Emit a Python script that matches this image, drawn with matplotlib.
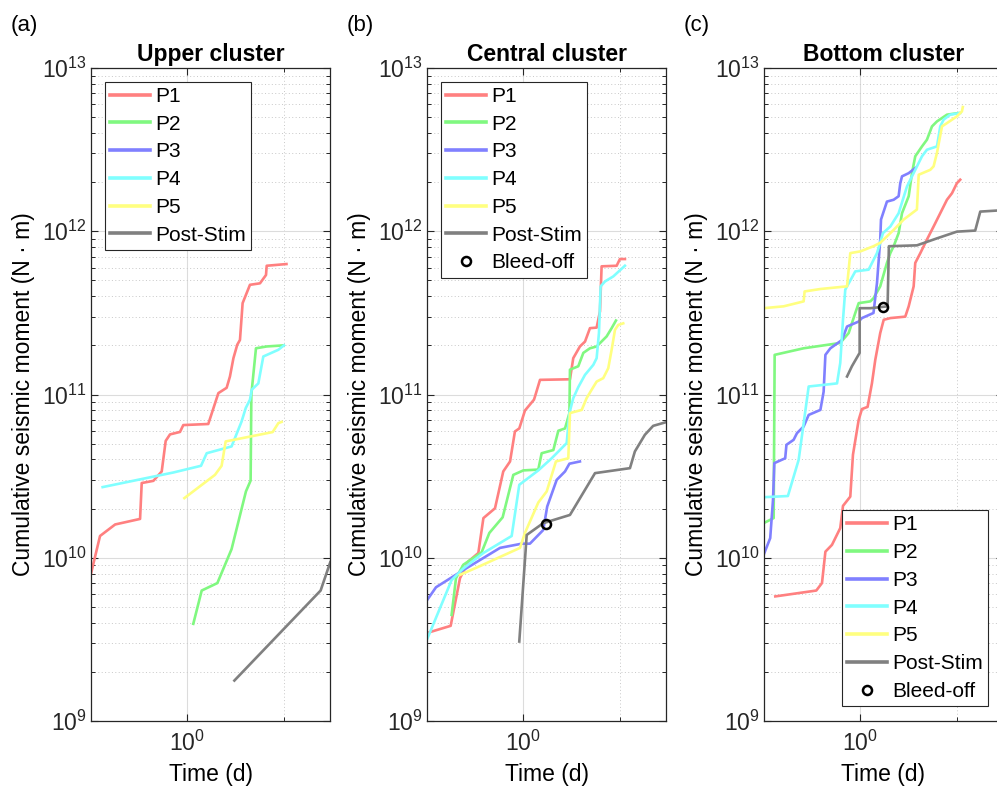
import matplotlib
matplotlib.use('Agg')
import matplotlib.pyplot as plt
from matplotlib.ticker import FixedLocator, LogLocator, NullFormatter, LogFormatterSciNotation

plt.rcParams['font.family'] = ['Liberation Sans', 'DejaVu Sans']
plt.rcParams['mathtext.fontset'] = 'custom'
plt.rcParams['mathtext.rm'] = 'Liberation Sans'
plt.rcParams['mathtext.it'] = 'Liberation Sans:italic'
plt.rcParams['mathtext.bf'] = 'Liberation Sans:bold'

# series colours (MATLAB-ish half transparent primaries)
colors = {'P1': '#ff8080', 'P2': '#80f880', 'P3': '#8080ff',
          'P4': '#80ffff', 'P5': '#ffff80', 'Post-Stim': '#808080'}

# ---------------- Upper cluster ----------------
up_p1_t = [0.100, 0.124, 0.178, 0.323, 0.336, 0.444, 0.542, 0.596, 0.661, 0.839, 0.908,
           1.65, 2.10, 2.56, 2.77, 3.01, 3.30, 3.52, 3.75, 4.06, 4.47, 5.68, 6.56, 6.67, 10.7]
up_p1_m = [8.0e9, 1.36e10, 1.6e10, 1.73e10, 2.87e10, 2.96e10, 3.38e10, 5.2e10, 5.7e10, 5.9e10, 6.5e10,
           6.6e10, 1.02e11, 1.1e11, 1.29e11, 1.67e11, 2.02e11, 2.16e11, 3.63e11, 4.08e11, 4.7e11, 4.8e11,
           5.4e11, 6.15e11, 6.3e11]
up_p2_t = [1.153, 1.41, 2.05, 2.88, 4.06, 4.54, 4.62, 5.16, 6.67, 9.93]
up_p2_m = [3.94e9, 6.3e9, 7.0e9, 1.13e10, 2.55e10, 2.97e10, 1.0e11, 1.92e11, 1.97e11, 2.0e11]
up_p4_t = [0.132, 0.716, 1.387, 1.589, 2.88, 3.66, 4.04, 4.47, 4.66, 5.46, 6.15, 8.81, 10.07]
up_p4_m = [2.71e10, 3.33e10, 3.66e10, 4.37e10, 4.81e10, 6.84e10, 8.26e10, 9.3e10, 1.07e11,
           1.17e11, 1.71e11, 1.88e11, 2.0e11]
up_p5_t = [0.931, 1.936, 2.27, 2.50, 7.69, 8.81, 9.53]
up_p5_m = [2.32e10, 3.22e10, 3.66e10, 5.16e10, 5.89e10, 6.68e10, 6.8e10]
up_post_t = [3.08, 24.2, 30.5]
up_post_m = [1.77e9, 6.3e9, 9.4e9]

# ---------------- Central cluster ----------------
ce_p1_t = [0.098, 0.176, 0.220, 0.269, 0.341, 0.385, 0.508, 0.619, 0.728, 0.818, 0.908, 1.04,
           1.29, 1.32, 1.49, 3.05, 3.30, 3.87, 4.37, 4.92, 5.77, 6.25, 6.50, 9.31, 10.07, 11.35]
ce_p1_m = [3.45e9, 3.83e9, 7.5e9, 9.5e9, 1.07e10, 1.75e10, 2.01e10, 3.38e10, 3.89e10, 5.94e10,
           6.2e10, 7.98e10, 9.3e10, 9.7e10, 1.23e11, 1.24e11, 1.67e11, 1.97e11, 2.11e11, 2.55e11,
           2.57e11, 3.23e11, 6.1e11, 6.15e11, 6.76e11, 6.76e11]
ce_p2_t = [0.180, 0.200, 0.238, 0.369, 0.444, 0.610, 0.787, 1.0, 1.43, 1.55, 2.05, 2.31, 2.71,
           3.01, 3.05, 3.72, 4.20, 4.92, 5.77, 7.33, 8.26, 9.16]
ce_p2_m = [4.47e9, 7.5e9, 9.06e9, 1.08e10, 1.42e10, 1.77e10, 3.22e10, 3.43e10, 3.47e10, 4.37e10,
           4.57e10, 6.0e10, 6.2e10, 7.7e10, 1.42e11, 1.49e11, 1.8e11, 1.92e11, 1.97e11, 2.27e11,
           2.55e11, 2.84e11]
ce_p3_t = [0.098, 0.124, 0.238, 0.573, 0.962, 1.17, 1.61, 1.77, 2.22, 2.71, 3.01, 3.87]
ce_p3_m = [5.4e9, 6.6e9, 8.4e9, 1.15e10, 1.22e10, 1.22e10, 1.48e10, 2.06e10, 3.0e10, 3.38e10,
           3.77e10, 3.89e10]
ce_p4_t = [0.098, 0.180, 0.238, 0.385, 0.757, 0.908, 1.43, 1.97, 2.82, 3.01, 3.30, 3.72, 4.37,
           5.33, 5.77, 6.10, 6.35, 7.05, 8.59, 11.35]
ce_p4_m = [3.07e9, 7.3e9, 8.6e9, 1.07e10, 1.36e10, 2.8e10, 3.43e10, 4.07e10, 5.04e10, 7.7e10,
           9.5e10, 1.11e11, 1.32e11, 1.52e11, 1.67e11, 2.38e11, 4.6e11, 4.93e11, 5.29e11, 6.15e11]
ce_p5_t = [0.220, 0.341, 0.923, 1.04, 1.43, 1.75, 2.18, 2.93, 3.05, 4.04, 4.54, 5.12, 5.77,
           6.76, 7.62, 8.26, 8.95, 9.68, 10.9]
ce_p5_m = [7.86e9, 8.8e9, 1.15e10, 1.42e10, 2.18e10, 2.55e10, 3.89e10, 4.07e10, 7.7e10, 8.05e10,
           9.5e10, 1.07e11, 1.2e11, 1.26e11, 1.45e11, 1.88e11, 2.49e11, 2.67e11, 2.73e11]
ce_post_t = [0.908, 1.084, 1.61, 3.05, 5.55, 12.8, 14.4, 18.3, 22.3, 29.5, 31.0]
ce_post_m = [3.07e9, 1.38e10, 1.63e10, 1.83e10, 3.3e10, 3.54e10, 4.48e10, 5.67e10, 6.43e10,
             6.74e10, 6.8e10]
ce_bleed = (1.71, 1.62e10)

# ---------------- Bottom cluster ----------------
bo_p1_t = [0.131, 0.349, 0.400, 0.434, 0.508, 0.619, 0.661, 0.787, 0.839, 0.962, 1.04, 1.19,
           1.32, 1.43, 1.61, 1.75, 2.05, 2.93, 3.18, 3.58, 3.72, 4.20, 4.92, 5.77, 6.76, 7.94,
           8.95, 10.07, 10.9]
bo_p1_m = [5.8e9, 6.3e9, 7.0e9, 1.09e10, 1.2e10, 1.52e10, 2.08e10, 2.37e10, 4.28e10, 7.0e10,
           8.15e10, 8.4e10, 1.17e11, 1.63e11, 2.38e11, 2.87e11, 2.94e11, 3.0e11, 3.47e11, 4.6e11,
           6.4e11, 7.35e11, 8.9e11, 1.07e12, 1.29e12, 1.56e12, 1.71e12, 1.97e12, 2.07e12]
bo_p2_t = [0.099, 0.126, 0.129, 0.258, 0.619, 0.757, 0.887, 0.962, 1.27, 1.37, 1.61, 1.89, 2.05,
           2.22, 2.50, 2.71, 3.18, 3.44, 3.72, 4.37, 4.92, 5.55, 6.25, 7.94, 10.5]
bo_p2_m = [1.63e10, 1.75e10, 1.75e11, 1.92e11, 2.07e11, 2.38e11, 3.16e11, 3.63e11, 3.72e11,
           3.89e11, 4.6e11, 6.4e11, 7.35e11, 8.1e11, 9.75e11, 1.29e12, 1.64e12, 2.27e12, 2.88e12,
           3.31e12, 3.64e12, 4.39e12, 4.71e12, 5.18e12, 5.3e12]
bo_p3_t = [0.099, 0.116, 0.124, 0.128, 0.166, 0.171, 0.203, 0.220, 0.258, 0.291, 0.385, 0.416,
           0.434, 0.489, 0.646, 0.728, 0.962, 1.04, 1.37, 1.49, 1.61, 1.64, 1.89, 2.22, 2.50,
           2.60, 2.71, 3.18, 3.72]
bo_p3_m = [1.04e10, 1.32e10, 2.26e10, 3.8e10, 4.07e10, 4.92e10, 5.28e10, 5.8e10, 6.37e10,
           7.5e10, 8.05e10, 1.04e11, 1.75e11, 1.92e11, 2.16e11, 2.61e11, 2.8e11, 2.94e11, 3.16e11,
           4.82e11, 8.88e11, 1.18e12, 1.52e12, 1.56e12, 1.64e12, 1.97e12, 2.17e12, 2.27e12, 2.44e12]
bo_p4_t = [0.099, 0.177, 0.229, 0.291, 0.573, 0.619, 0.661, 0.698, 0.887, 1.22, 1.49, 1.72,
           2.05, 2.50, 3.05, 3.72, 4.37, 4.92, 6.25, 6.76, 7.33, 8.59, 10.9]
bo_p4_m = [2.35e10, 2.39e10, 3.98e10, 1.12e11, 1.17e11, 1.56e11, 2.87e11, 4.39e11, 5.68e11,
           5.82e11, 7.35e11, 9.75e11, 1.07e12, 1.29e12, 1.88e12, 2.38e12, 2.88e12, 3.16e12,
           3.31e12, 4.39e12, 4.83e12, 5.18e12, 5.3e12]
bo_p5_t = [0.099, 0.160, 0.258, 0.264, 0.385, 0.728, 0.787, 1.0, 1.37, 1.61, 2.22, 2.82, 3.87,
           4.04, 5.33, 5.77, 6.25, 7.05, 7.94, 10.07, 11.35, 11.6]
bo_p5_m = [3.38e11, 3.47e11, 3.72e11, 4.28e11, 4.43e11, 4.6e11, 7.35e11, 7.53e11, 8.1e11,
           8.5e11, 1.02e12, 1.18e12, 1.36e12, 2.22e12, 2.38e12, 2.5e12, 3.02e12, 4.39e12, 4.6e12,
           5.06e12, 5.42e12, 5.77e12]
bo_post_t = [0.728, 0.818, 0.984, 0.985, 1.27, 1.92, 1.98, 3.87, 6.25, 10.07, 15.6, 17.6, 26.4, 33.0]
bo_post_m = [1.29e11, 1.49e11, 1.8e11, 3.38e11, 3.38e11, 3.47e11, 8.1e11, 8.2e11, 9.05e11,
             9.95e11, 1.01e12, 1.32e12, 1.34e12, 1.35e12]
bo_bleed = (1.70, 3.42e11)

panels = [
    ('(a)', 'Upper cluster', 0.0913,
     [('P1', up_p1_t, up_p1_m), ('P2', up_p2_t, up_p2_m), ('P3', [], []),
      ('P4', up_p4_t, up_p4_m), ('P5', up_p5_t, up_p5_m), ('Post-Stim', up_post_t, up_post_m)],
     None),
    ('(b)', 'Central cluster', 0.4283,
     [('P1', ce_p1_t, ce_p1_m), ('P2', ce_p2_t, ce_p2_m), ('P3', ce_p3_t, ce_p3_m),
      ('P4', ce_p4_t, ce_p4_m), ('P5', ce_p5_t, ce_p5_m), ('Post-Stim', ce_post_t, ce_post_m)],
     ce_bleed),
    ('(c)', 'Bottom cluster', 0.7663,
     [('P1', bo_p1_t, bo_p1_m), ('P2', bo_p2_t, bo_p2_m), ('P3', bo_p3_t, bo_p3_m),
      ('P4', bo_p4_t, bo_p4_m), ('P5', bo_p5_t, bo_p5_m), ('Post-Stim', bo_post_t, bo_post_m)],
     bo_bleed),
]

fig = plt.figure(figsize=(9.97, 7.92), dpi=100)
axcol = '#262626'

for i, (tag, title, left, series, bleed) in enumerate(panels):
    ax = fig.add_axes([left, 0.0896, 0.2397, 0.8245])
    for name, t, m in series:
        ax.plot(t, m, color=colors[name], lw=1.9, label=name)
    if bleed is not None:
        ax.plot([bleed[0]], [bleed[1]], 'o', ms=6.5, mfc='none', mec='k', mew=1.8,
                label='Bleed-off', zorder=5)

    ax.set_xscale('log')
    ax.set_yscale('log')
    ax.set_xlim(0.1, 30.3)
    ax.set_ylim(1e9, 1e13)

    ax.xaxis.set_major_locator(FixedLocator([1.0]))
    ax.xaxis.set_minor_locator(FixedLocator([10.0]))
    ax.xaxis.set_major_formatter(LogFormatterSciNotation())
    ax.xaxis.set_minor_formatter(NullFormatter())
    ax.yaxis.set_major_locator(LogLocator(base=10, numticks=10))
    ax.yaxis.set_minor_locator(LogLocator(base=10, subs=range(2, 10), numticks=20))
    ax.yaxis.set_minor_formatter(NullFormatter())

    ax.grid(True, which='major', color='#dcdcdc', lw=0.8, ls='-')
    ax.grid(True, which='minor', color='#c8c8c8', lw=0.7, ls=(0, (1, 2.5)))
    ax.set_axisbelow(True)

    ax.tick_params(which='both', direction='in', top=True, right=True, colors=axcol,
                   labelcolor='#262626', labelsize=16.5)
    ax.tick_params(which='major', length=5, width=0.8)
    ax.tick_params(which='minor', length=3, width=0.7)
    ax.tick_params(axis='x', which='major', pad=7)
    ax.tick_params(axis='y', which='major', pad=3)
    for sp in ax.spines.values():
        sp.set_color(axcol)
        sp.set_linewidth(0.9)

    ax.set_xlabel('Time (d)', fontsize=16.5, labelpad=5)
    ax.set_ylabel('Cumulative seismic moment (N · m)', fontsize=16.5, labelpad=5)
    ax.set_title(title, fontsize=16.5, fontweight='bold', pad=5)

    legkw = dict(fontsize=15, frameon=True, fancybox=False, framealpha=1, edgecolor=axcol,
                 borderpad=0.25, labelspacing=0.42, handlelength=1.9, handletextpad=0.25,
                 borderaxespad=0)
    if i < 2:
        leg = ax.legend(loc='upper left', bbox_to_anchor=(0.058, 0.979), **legkw)
    else:
        leg = ax.legend(loc='lower right', bbox_to_anchor=(0.937, 0.023), **legkw)
    leg.get_frame().set_linewidth(0.8)
    for h in leg.get_lines():
        h.set_linewidth(2.6)

    fig.text(left - 0.081, 0.968, tag, fontsize=16, va='center', ha='left')

fig.savefig('out.png', dpi=100)
